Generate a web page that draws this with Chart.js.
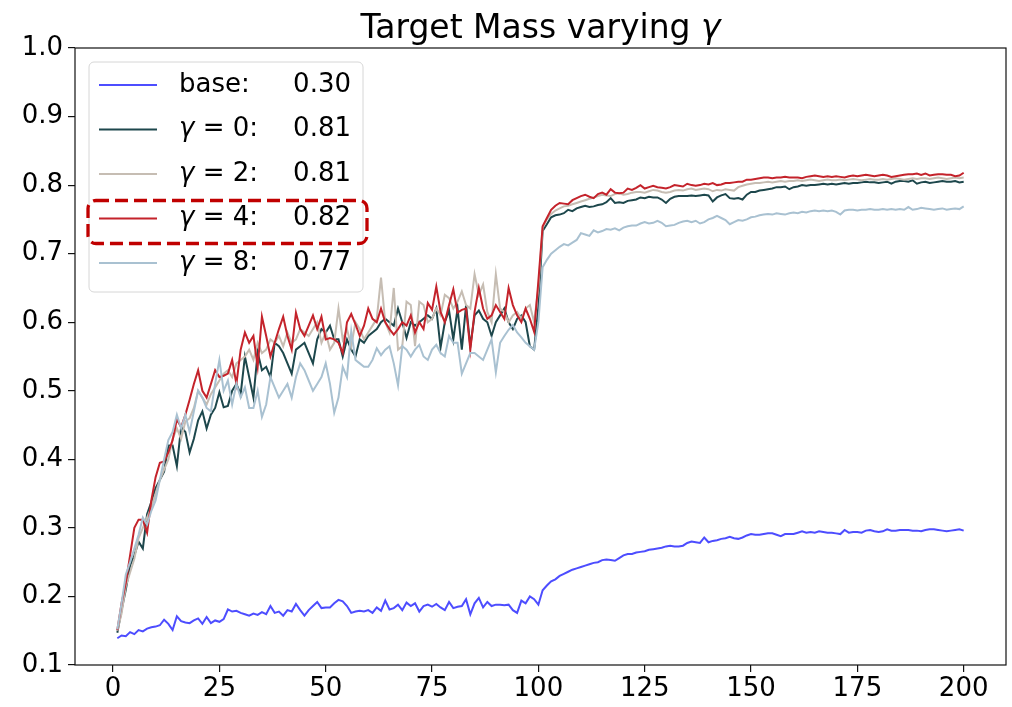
<!DOCTYPE html>
<html lang="en">
<head>
    <meta charset="UTF-8">
    <title>Target Mass varying γ</title>
    <script src="https://cdn.jsdelivr.net/npm/chart.js"></script>
    <style>
        body { margin: 0; background: #fff; }
        #wrap { width: 1012px; height: 707px; }
    </style>
</head>
<body>
<div id="wrap"><canvas id="chart" width="1012" height="707"></canvas></div>
<script>
// epochs 1..200 on x
const epochs = Array.from({ length: 200 }, (_, i) => i + 1);
const xTicks = [0, 25, 50, 75, 100, 125, 150, 175, 200];
const yTicks = [0.1, 0.2, 0.3, 0.4, 0.5, 0.6, 0.7, 0.8, 0.9, 1.0];

const legendLabels = ['base:', 'γ = 0:', 'γ = 2:', 'γ = 4:', 'γ = 8:'];
const legendFinals = ['0.30', '0.81', '0.81', '0.82', '0.77'];
const highlighted = 3; // the γ = 4 entry has the dashed box

const base = [
    0.139, 0.143, 0.142, 0.148, 0.145, 0.151, 0.149, 0.153, 0.155, 0.156,
    0.158, 0.166, 0.160, 0.151, 0.171, 0.164, 0.162, 0.161, 0.165, 0.168,
    0.160, 0.170, 0.161, 0.165, 0.163, 0.167, 0.181, 0.178, 0.179, 0.176,
    0.174, 0.172, 0.175, 0.173, 0.177, 0.174, 0.186, 0.176, 0.178, 0.172,
    0.180, 0.178, 0.189, 0.180, 0.172, 0.180, 0.186, 0.192, 0.183, 0.184,
    0.184, 0.190, 0.195, 0.193, 0.186, 0.176, 0.178, 0.179, 0.178, 0.180,
    0.176, 0.184, 0.179, 0.194, 0.181, 0.183, 0.188, 0.180, 0.191, 0.186,
    0.190, 0.178, 0.186, 0.188, 0.185, 0.189, 0.184, 0.180, 0.192, 0.183,
    0.185, 0.186, 0.196, 0.174, 0.190, 0.198, 0.184, 0.192, 0.186, 0.188,
    0.188, 0.187, 0.188, 0.180, 0.176, 0.194, 0.190, 0.200, 0.196, 0.188,
    0.209, 0.216, 0.222, 0.225, 0.230, 0.233, 0.236, 0.239, 0.241, 0.243,
    0.245, 0.247, 0.249, 0.250, 0.253, 0.254, 0.253, 0.252, 0.256, 0.260,
    0.262, 0.262, 0.264, 0.265, 0.266, 0.268, 0.269, 0.270, 0.271, 0.273,
    0.274, 0.273, 0.273, 0.274, 0.278, 0.280, 0.279, 0.278, 0.286, 0.279,
    0.281, 0.282, 0.284, 0.285, 0.287, 0.285, 0.284, 0.286, 0.289, 0.291,
    0.290, 0.290, 0.291, 0.292, 0.292, 0.290, 0.288, 0.291, 0.291, 0.291,
    0.293, 0.295, 0.293, 0.294, 0.293, 0.295, 0.294, 0.293, 0.293, 0.292,
    0.291, 0.297, 0.293, 0.294, 0.294, 0.293, 0.296, 0.297, 0.295, 0.294,
    0.295, 0.298, 0.296, 0.296, 0.297, 0.297, 0.297, 0.296, 0.296, 0.295,
    0.297, 0.298, 0.298, 0.297, 0.296, 0.295, 0.296, 0.297, 0.298, 0.296
];

const gamma0 = [
    0.147, 0.180, 0.210, 0.245, 0.260, 0.280, 0.270, 0.320, 0.338, 0.358,
    0.370, 0.382, 0.420, 0.420, 0.390, 0.447, 0.440, 0.410, 0.430, 0.457,
    0.470, 0.445, 0.465, 0.475, 0.498, 0.476, 0.478, 0.500, 0.510, 0.495,
    0.550, 0.520, 0.490, 0.556, 0.530, 0.535, 0.520, 0.570, 0.565, 0.555,
    0.540, 0.525, 0.560, 0.565, 0.570, 0.555, 0.540, 0.575, 0.590, 0.585,
    0.595, 0.575, 0.575, 0.550, 0.575, 0.560, 0.550, 0.575, 0.570, 0.580,
    0.585, 0.590, 0.600, 0.605, 0.600, 0.595, 0.620, 0.600, 0.577, 0.600,
    0.595, 0.600, 0.605, 0.610, 0.605, 0.620, 0.563, 0.600, 0.617, 0.575,
    0.620, 0.560, 0.625, 0.565, 0.610, 0.617, 0.605, 0.600, 0.580, 0.600,
    0.610, 0.620, 0.600, 0.590, 0.605, 0.610, 0.600, 0.565, 0.560, 0.622,
    0.733, 0.743, 0.753, 0.756, 0.757, 0.759, 0.764, 0.762, 0.766, 0.768,
    0.770, 0.768, 0.769, 0.771, 0.772, 0.775, 0.781, 0.774, 0.775, 0.774,
    0.777, 0.778, 0.779, 0.782, 0.781, 0.783, 0.782, 0.782, 0.779, 0.774,
    0.780, 0.783, 0.784, 0.784, 0.784, 0.785, 0.784, 0.785, 0.786, 0.785,
    0.776, 0.782, 0.785, 0.787, 0.781, 0.780, 0.781, 0.779, 0.786, 0.790,
    0.790, 0.792, 0.793, 0.794, 0.795, 0.797, 0.797, 0.798, 0.794, 0.797,
    0.798, 0.800, 0.799, 0.800, 0.800, 0.801, 0.802, 0.801, 0.802, 0.801,
    0.802, 0.803, 0.802, 0.803, 0.803, 0.804, 0.805, 0.804, 0.804, 0.803,
    0.804, 0.805, 0.802, 0.805, 0.806, 0.806, 0.805, 0.807, 0.802, 0.804,
    0.805, 0.803, 0.804, 0.805, 0.806, 0.805, 0.805, 0.806, 0.804, 0.805
];

const gamma2 = [
    0.150, 0.175, 0.215, 0.235, 0.255, 0.285, 0.300, 0.315, 0.330, 0.350,
    0.370, 0.385, 0.400, 0.430, 0.445, 0.430, 0.455, 0.460, 0.475, 0.500,
    0.490, 0.480, 0.495, 0.505, 0.515, 0.525, 0.530, 0.520, 0.540, 0.545,
    0.550, 0.560, 0.545, 0.570, 0.555, 0.560, 0.575, 0.570, 0.580, 0.565,
    0.585, 0.570, 0.575, 0.590, 0.585, 0.580, 0.590, 0.600, 0.570, 0.585,
    0.560, 0.570, 0.620, 0.575, 0.590, 0.565, 0.600, 0.590, 0.575, 0.585,
    0.595, 0.605, 0.665, 0.600, 0.585, 0.650, 0.560, 0.565, 0.630, 0.625,
    0.565, 0.630, 0.625, 0.600, 0.605, 0.620, 0.610, 0.640, 0.635, 0.620,
    0.630, 0.645, 0.625, 0.620, 0.670, 0.640, 0.655, 0.615, 0.600, 0.670,
    0.620, 0.615, 0.600, 0.610, 0.615, 0.605, 0.620, 0.625, 0.600, 0.650,
    0.738, 0.750, 0.758, 0.763, 0.766, 0.769, 0.770, 0.772, 0.774, 0.776,
    0.778, 0.780, 0.782, 0.784, 0.786, 0.785, 0.784, 0.787, 0.788, 0.786,
    0.787, 0.789, 0.790, 0.790, 0.789, 0.791, 0.793, 0.792, 0.790, 0.789,
    0.790, 0.792, 0.793, 0.792, 0.794, 0.795, 0.793, 0.794, 0.795, 0.794,
    0.791, 0.793, 0.792, 0.794, 0.793, 0.792, 0.797, 0.799, 0.801, 0.802,
    0.803, 0.803, 0.804, 0.805, 0.804, 0.805, 0.806, 0.805, 0.806, 0.806,
    0.807, 0.806, 0.807, 0.808, 0.807, 0.806, 0.807, 0.808, 0.807, 0.807,
    0.808, 0.807, 0.808, 0.809, 0.808, 0.807, 0.808, 0.809, 0.808, 0.808,
    0.809, 0.808, 0.809, 0.810, 0.809, 0.808, 0.809, 0.810, 0.809, 0.810,
    0.810, 0.809, 0.810, 0.811, 0.810, 0.809, 0.810, 0.811, 0.810, 0.811
];

const gamma4 = [
    0.151, 0.190, 0.220, 0.260, 0.300, 0.312, 0.312, 0.293, 0.340, 0.374,
    0.395, 0.397, 0.410, 0.428, 0.458, 0.447, 0.465, 0.487, 0.510, 0.530,
    0.500, 0.490, 0.510, 0.530, 0.520, 0.522, 0.525, 0.545, 0.510, 0.560,
    0.585, 0.570, 0.580, 0.535, 0.608, 0.580, 0.550, 0.570, 0.590, 0.608,
    0.580, 0.560, 0.614, 0.590, 0.580, 0.595, 0.610, 0.590, 0.608, 0.575,
    0.577, 0.575, 0.570, 0.555, 0.600, 0.612, 0.597, 0.580, 0.595, 0.620,
    0.605, 0.600, 0.620, 0.600, 0.590, 0.582, 0.590, 0.600, 0.595, 0.610,
    0.585, 0.600, 0.590, 0.628, 0.618, 0.652, 0.615, 0.600, 0.625, 0.648,
    0.614, 0.618, 0.620, 0.560, 0.615, 0.650, 0.620, 0.605, 0.610, 0.625,
    0.615, 0.605, 0.650, 0.625, 0.610, 0.600, 0.620, 0.605, 0.586, 0.660,
    0.740, 0.752, 0.764, 0.770, 0.774, 0.773, 0.772, 0.778, 0.781, 0.784,
    0.786, 0.783, 0.781, 0.787, 0.789, 0.786, 0.794, 0.789, 0.788, 0.789,
    0.795, 0.793, 0.796, 0.800, 0.795, 0.797, 0.799, 0.797, 0.796, 0.795,
    0.797, 0.800, 0.799, 0.798, 0.802, 0.800, 0.799, 0.800, 0.802, 0.801,
    0.803, 0.800, 0.801, 0.803, 0.803, 0.804, 0.805, 0.805, 0.808, 0.808,
    0.809, 0.810, 0.811, 0.811, 0.810, 0.811, 0.811, 0.812, 0.811, 0.811,
    0.811, 0.810, 0.812, 0.813, 0.814, 0.813, 0.812, 0.813, 0.812, 0.813,
    0.812, 0.811, 0.813, 0.814, 0.813, 0.814, 0.815, 0.814, 0.813, 0.814,
    0.815, 0.814, 0.812, 0.813, 0.814, 0.815, 0.816, 0.816, 0.817, 0.815,
    0.817, 0.814, 0.815, 0.816, 0.816, 0.815, 0.815, 0.813, 0.814, 0.818
];

const gamma8 = [
    0.152, 0.190, 0.232, 0.250, 0.270, 0.290, 0.315, 0.305, 0.325, 0.340,
    0.370, 0.400, 0.428, 0.440, 0.465, 0.445, 0.465, 0.440, 0.470, 0.500,
    0.490, 0.475, 0.470, 0.510, 0.545, 0.500, 0.515, 0.480, 0.510, 0.490,
    0.505, 0.475, 0.475, 0.500, 0.462, 0.480, 0.520, 0.505, 0.490, 0.500,
    0.510, 0.490, 0.520, 0.540, 0.530, 0.515, 0.500, 0.510, 0.520, 0.540,
    0.510, 0.468, 0.490, 0.535, 0.520, 0.587, 0.545, 0.540, 0.535, 0.535,
    0.545, 0.562, 0.552, 0.560, 0.565, 0.540, 0.508, 0.565, 0.560, 0.550,
    0.560, 0.567, 0.550, 0.545, 0.560, 0.567, 0.555, 0.550, 0.580, 0.570,
    0.570, 0.525, 0.540, 0.555, 0.555, 0.550, 0.545, 0.560, 0.575, 0.527,
    0.570, 0.580, 0.589, 0.596, 0.585, 0.578, 0.570, 0.565, 0.560, 0.600,
    0.680, 0.691, 0.700, 0.705, 0.710, 0.714, 0.712, 0.716, 0.720, 0.730,
    0.728, 0.726, 0.734, 0.731, 0.733, 0.736, 0.735, 0.737, 0.734, 0.738,
    0.740, 0.741, 0.741, 0.744, 0.746, 0.744, 0.745, 0.748, 0.745, 0.740,
    0.741, 0.742, 0.745, 0.747, 0.748, 0.746, 0.748, 0.744, 0.746, 0.750,
    0.752, 0.755, 0.752, 0.749, 0.743, 0.746, 0.749, 0.748, 0.750, 0.753,
    0.754, 0.756, 0.757, 0.758, 0.757, 0.759, 0.758, 0.757, 0.759, 0.760,
    0.759, 0.761, 0.760, 0.762, 0.763, 0.762, 0.763, 0.762, 0.763, 0.761,
    0.757, 0.763, 0.764, 0.764, 0.763, 0.764, 0.764, 0.765, 0.764, 0.764,
    0.765, 0.764, 0.765, 0.764, 0.765, 0.764, 0.768, 0.764, 0.765, 0.767,
    0.766, 0.765, 0.764, 0.765, 0.766, 0.764, 0.765, 0.766, 0.765, 0.769
];

const seriesList = [base, gamma0, gamma2, gamma4, gamma8];
const colors = ['#4d4dff', '#1d474c', '#c6bdb3', '#c4232b', '#a9c1d1'];

const FONT = '"DejaVu Sans", sans-serif';

// text where a leading/trailing γ is drawn in italic, like mathtext
function textParts(s) {
    const parts = [];
    for (const ch of s) {
        const it = ch === 'γ';
        const last = parts[parts.length - 1];
        if (last && last.italic === it) last.t += ch;
        else parts.push({ t: ch, italic: it });
    }
    return parts;
}

function drawText(ctx, s, x, y, size, align) {
    const parts = textParts(s);
    let w = 0;
    parts.forEach(p => {
        ctx.font = (p.italic ? 'italic ' : '') + size + 'px ' + FONT;
        p.w = ctx.measureText(p.t).width;
        w += p.w;
    });
    let cx = align === 'center' ? x - w / 2 : align === 'right' ? x - w : x;
    ctx.textAlign = 'left';
    ctx.textBaseline = 'middle';
    parts.forEach(p => {
        ctx.font = (p.italic ? 'italic ' : '') + size + 'px ' + FONT;
        ctx.fillText(p.t, cx, y);
        cx += p.w;
    });
}

const decor = {
    id: 'decor',
    afterDraw(chart) {
        const ctx = chart.ctx;
        const a = chart.chartArea;
        ctx.save();

        // axes box
        ctx.strokeStyle = '#111';
        ctx.lineWidth = 1.2;
        ctx.strokeRect(a.left, a.top, a.right - a.left, a.bottom - a.top);

        // title
        ctx.fillStyle = '#000';
        drawText(ctx, 'Target Mass varying γ', (a.left + a.right) / 2, 29, 33, 'center');

        // legend frame
        const lx = 89, ly = 62, lw = 274, lh = 230;
        ctx.beginPath();
        ctx.roundRect(lx, ly, lw, lh, 5);
        ctx.fillStyle = 'rgba(255,255,255,0.85)';
        ctx.fill();
        ctx.strokeStyle = '#d6d6d6';
        ctx.lineWidth = 1;
        ctx.stroke();

        legendLabels.forEach((lab, i) => {
            const y = 85 + i * 44.5;
            ctx.strokeStyle = colors[i];
            ctx.lineWidth = 2;
            ctx.beginPath();
            ctx.moveTo(99, y);
            ctx.lineTo(157, y);
            ctx.stroke();
            ctx.fillStyle = '#000';
            drawText(ctx, lab, 179, y, 26, 'left');
            drawText(ctx, legendFinals[i], 351, y, 26, 'right');
        });

        // dashed highlight around the γ = 4 entry
        const hy = 85 + highlighted * 44.5;
        ctx.beginPath();
        ctx.roundRect(88, hy - 18, 279, 43, 8);
        ctx.setLineDash([13, 6]);
        ctx.strokeStyle = '#c00000';
        ctx.lineWidth = 3.3;
        ctx.stroke();
        ctx.restore();
    }
};

const datasets = seriesList.map((s, i) => ({
    label: legendLabels[i],
    data: s.map((v, j) => ({ x: epochs[j], y: v })),
    borderColor: colors[i],
    borderWidth: 2,
    pointRadius: 0,
    tension: 0,
    fill: false,
    order: 5 - i
}));

new Chart(document.getElementById('chart'), {
    type: 'line',
    data: { datasets },
    options: {
        responsive: false,
        animation: false,
        devicePixelRatio: 1,
        layout: { padding: { left: 0, right: 6, top: 48, bottom: 0 } },
        plugins: {
            legend: { display: false },
            title: { display: false },
            tooltip: { enabled: false }
        },
        scales: {
            x: {
                type: 'linear',
                min: -8.95,
                max: 209.95,
                afterBuildTicks: s => { s.ticks = xTicks.map(v => ({ value: v })); },
                afterFit: s => { s.height = 42; },
                grid: { drawOnChartArea: false, drawTicks: true, tickLength: 7, color: '#111', lineWidth: 1.2 },
                border: { display: false },
                ticks: { color: '#000', font: { family: FONT, size: 26 }, padding: 2, maxRotation: 0 }
            },
            y: {
                type: 'linear',
                min: 0.1,
                max: 1.0,
                afterBuildTicks: s => { s.ticks = yTicks.map(v => ({ value: v })); },
                afterFit: s => { s.width = 75; },
                grid: { drawOnChartArea: false, drawTicks: true, tickLength: 7, color: '#111', lineWidth: 1.2 },
                border: { display: false },
                ticks: {
                    color: '#000', font: { family: FONT, size: 26 }, padding: 5,
                    callback: v => Number(v).toFixed(1)
                }
            }
        }
    },
    plugins: [decor]
});
</script>
</body>
</html>
